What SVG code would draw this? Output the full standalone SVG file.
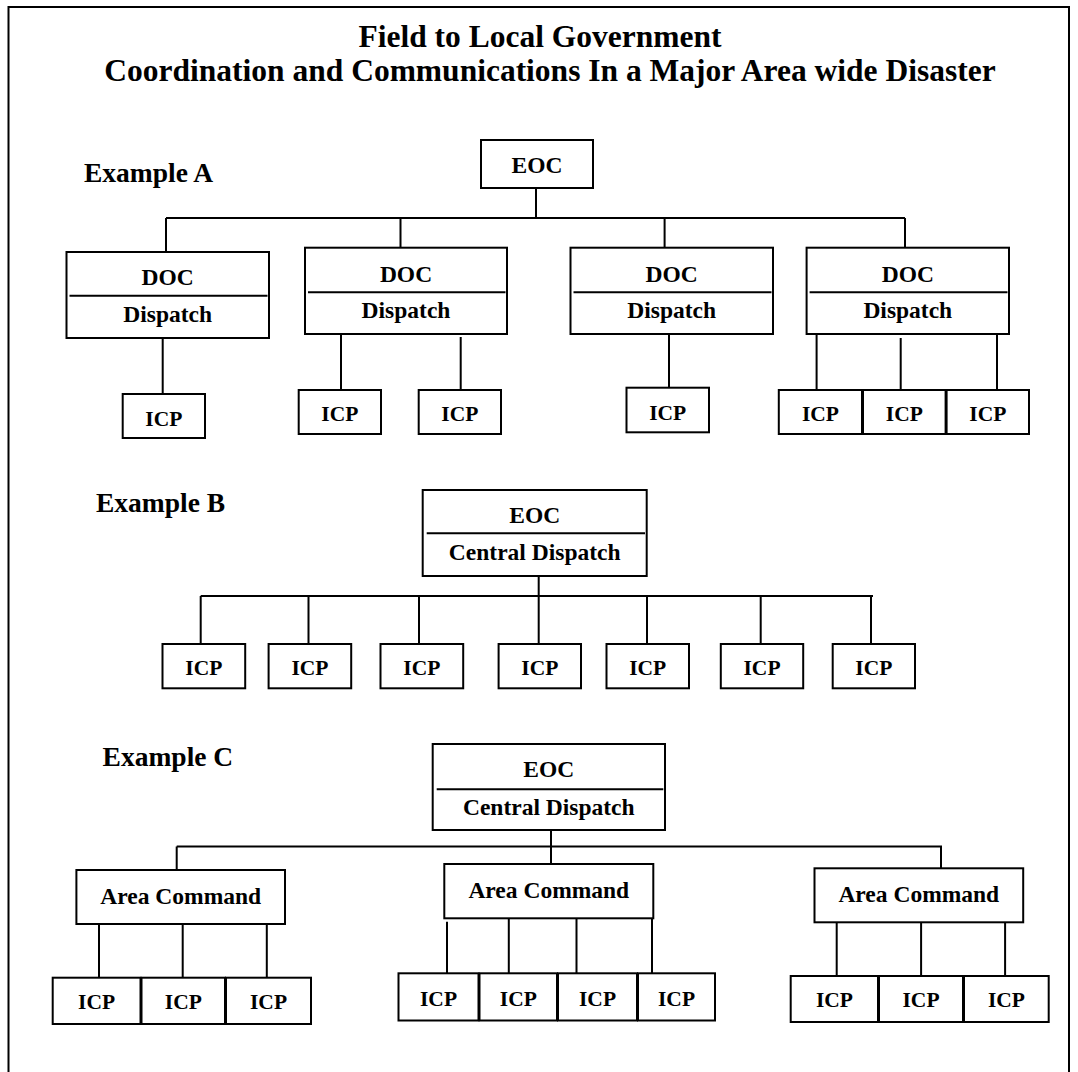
<svg xmlns="http://www.w3.org/2000/svg" width="1078" height="1072" viewBox="0 0 1078 1072">
<style>
.bx{fill:#fff;stroke:#000;stroke-width:2}
.ln{fill:none;stroke:#000;stroke-width:2}
.t{font-family:"Liberation Serif","Times New Roman",serif;font-weight:bold;fill:#000;text-anchor:middle}
.n{font-size:23.5px}
.i{font-size:21.5px}
.ex{font-size:27.5px;text-anchor:start}
.ti{font-size:31.5px}
</style>
<rect x="0" y="0" width="1078" height="1072" fill="#fff"/>
<path class="ln" d="M8.5 1072 V7 H1069 V1072"/>
<g id="title">
<text class="t ti" x="540" y="47">Field to Local Government</text>
<text class="t ti" x="550" y="81">Coordination and Communications In a Major Area wide Disaster</text>
</g>
<g id="labels">
<text class="t ex" x="84" y="182">Example A</text>
<text class="t ex" x="96" y="512">Example B</text>
<text class="t ex" x="102.6" y="766">Example C</text>
</g>
<g id="connectors">
<path class="ln" d="M536 188 V218 M166 218 H905 M166 218 V252 M400.5 218 V247.7 M664.6 218 V247.7 M905 218 V247.7"/>
<path class="ln" d="M162.7 338 V394 M341 334 V390 M460.7 337 V390 M669 334 V387.7 M816.6 334 V390 M900.7 338 V390 M997 334 V390"/>
<path class="ln" d="M538.7 576 V596 M200.7 596 H873 M200.7 596 V644 M308.5 596 V644 M419 596 V644 M538.7 596 V644 M647 596 V644 M760.7 596 V644 M871 596 V644"/>
<path class="ln" d="M551 830 V864 M176.7 846.5 H942 M176.7 846.5 V870 M941 846.5 V868.3"/>
<path class="ln" d="M99 924 V977.7 M182.7 924 V977.7 M266.8 924 V977.7 M447 921.7 V973.3 M508.8 918.3 V973.3 M576.5 918.3 V973.3 M652 918.3 V973.3 M836.7 922.3 V976 M921.1 922.3 V976 M1005.1 922.3 V976"/>
</g>
<g id="eoc-a"><rect class="bx" x="481" y="140" width="112" height="48"/><text class="t n" x="537" y="173">EOC</text></g>
<g id="doc-a1"><rect class="bx" x="66.5" y="252" width="202.5" height="86"/><path class="ln" d="M69.5 295.7 H267.5"/><text class="t n" x="167.7" y="285">DOC</text><text class="t n" x="167.7" y="322">Dispatch</text></g>
<g id="doc-a2"><rect class="bx" x="305" y="247.7" width="202" height="86.3"/><path class="ln" d="M308 292.3 H505.5"/><text class="t n" x="406" y="281.7">DOC</text><text class="t n" x="406" y="318.3">Dispatch</text></g>
<g id="doc-a3"><rect class="bx" x="570.5" y="247.7" width="202.5" height="86.3"/><path class="ln" d="M573.5 292.3 H771.5"/><text class="t n" x="671.7" y="281.7">DOC</text><text class="t n" x="671.7" y="318.3">Dispatch</text></g>
<g id="doc-a4"><rect class="bx" x="806.6" y="247.7" width="202.4" height="86.3"/><path class="ln" d="M809.6 292.3 H1007.5"/><text class="t n" x="907.8" y="281.7">DOC</text><text class="t n" x="907.8" y="318.3">Dispatch</text></g>
<g id="icp-a1"><rect class="bx" x="122.7" y="394" width="82.3" height="44"/><text class="t i" x="163.8" y="425.7">ICP</text></g>
<g id="icp-a2"><rect class="bx" x="298.7" y="390" width="82.3" height="44"/><text class="t i" x="339.8" y="421">ICP</text></g>
<g id="icp-a3"><rect class="bx" x="418.7" y="390" width="82.3" height="44"/><text class="t i" x="459.8" y="421">ICP</text></g>
<g id="icp-a4"><rect class="bx" x="626.5" y="387.7" width="82.5" height="44.6"/><text class="t i" x="667.7" y="419.5">ICP</text></g>
<g id="icp-a5"><rect class="bx" x="778.8" y="390" width="83.2" height="44"/><text class="t i" x="820.4" y="421">ICP</text></g>
<g id="icp-a6"><rect class="bx" x="863" y="390" width="82.6" height="44"/><text class="t i" x="904.3" y="421">ICP</text></g>
<g id="icp-a7"><rect class="bx" x="946.6" y="390" width="82.4" height="44"/><text class="t i" x="987.8" y="421">ICP</text></g>
<g id="eoc-b"><rect class="bx" x="422.7" y="490" width="224" height="86"/><path class="ln" d="M426.7 533.3 H645"/><text class="t n" x="534.7" y="523">EOC</text><text class="t n" x="534.7" y="560">Central Dispatch</text></g>
<g id="icp-b1"><rect class="bx" x="162.5" y="644" width="82.7" height="44.3"/><text class="t i" x="203.8" y="675">ICP</text></g>
<g id="icp-b2"><rect class="bx" x="268.6" y="644" width="82.6" height="44.3"/><text class="t i" x="309.9" y="675">ICP</text></g>
<g id="icp-b3"><rect class="bx" x="380.5" y="644" width="82.7" height="44.3"/><text class="t i" x="421.8" y="675">ICP</text></g>
<g id="icp-b4"><rect class="bx" x="498.6" y="644" width="82.4" height="44.3"/><text class="t i" x="539.8" y="675">ICP</text></g>
<g id="icp-b5"><rect class="bx" x="606.5" y="644" width="82.5" height="44.3"/><text class="t i" x="647.7" y="675">ICP</text></g>
<g id="icp-b6"><rect class="bx" x="720.8" y="644" width="82.4" height="44.3"/><text class="t i" x="762" y="675">ICP</text></g>
<g id="icp-b7"><rect class="bx" x="832.7" y="644" width="82.3" height="44.3"/><text class="t i" x="873.8" y="675">ICP</text></g>
<g id="eoc-c"><rect class="bx" x="432.7" y="744" width="232.3" height="86"/><path class="ln" d="M436.7 789.3 H663.3"/><text class="t n" x="548.8" y="776.7">EOC</text><text class="t n" x="548.8" y="815">Central Dispatch</text></g>
<g id="ac-1"><rect class="bx" x="76.4" y="870" width="208.6" height="54"/><text class="t n" x="180.7" y="904">Area Command</text></g>
<g id="ac-2"><rect class="bx" x="444.3" y="864" width="209" height="54.3"/><text class="t n" x="548.8" y="898">Area Command</text></g>
<g id="ac-3"><rect class="bx" x="814.5" y="868.3" width="208.7" height="54"/><text class="t n" x="918.8" y="902">Area Command</text></g>
<g id="icp-c1"><rect class="bx" x="52.7" y="977.7" width="87.8" height="46.3"/><text class="t i" x="96.6" y="1009">ICP</text></g>
<g id="icp-c2"><rect class="bx" x="141.5" y="977.7" width="83.5" height="46.3"/><text class="t i" x="183.3" y="1009">ICP</text></g>
<g id="icp-c3"><rect class="bx" x="226" y="977.7" width="85" height="46.3"/><text class="t i" x="268.5" y="1009">ICP</text></g>
<g id="icp-c4"><rect class="bx" x="398.5" y="973.3" width="80" height="47.2"/><text class="t i" x="438.5" y="1005.5">ICP</text></g>
<g id="icp-c5"><rect class="bx" x="479.5" y="973.3" width="77.5" height="47.2"/><text class="t i" x="518.3" y="1005.5">ICP</text></g>
<g id="icp-c6"><rect class="bx" x="558" y="973.3" width="79" height="47.2"/><text class="t i" x="597.5" y="1005.5">ICP</text></g>
<g id="icp-c7"><rect class="bx" x="638" y="973.3" width="77" height="47.2"/><text class="t i" x="676.5" y="1005.5">ICP</text></g>
<g id="icp-c8"><rect class="bx" x="790.7" y="976" width="87.3" height="46"/><text class="t i" x="834.4" y="1007">ICP</text></g>
<g id="icp-c9"><rect class="bx" x="879" y="976" width="84" height="46"/><text class="t i" x="921" y="1007">ICP</text></g>
<g id="icp-c10"><rect class="bx" x="964" y="976" width="84.7" height="46"/><text class="t i" x="1006.4" y="1007">ICP</text></g>
</svg>
